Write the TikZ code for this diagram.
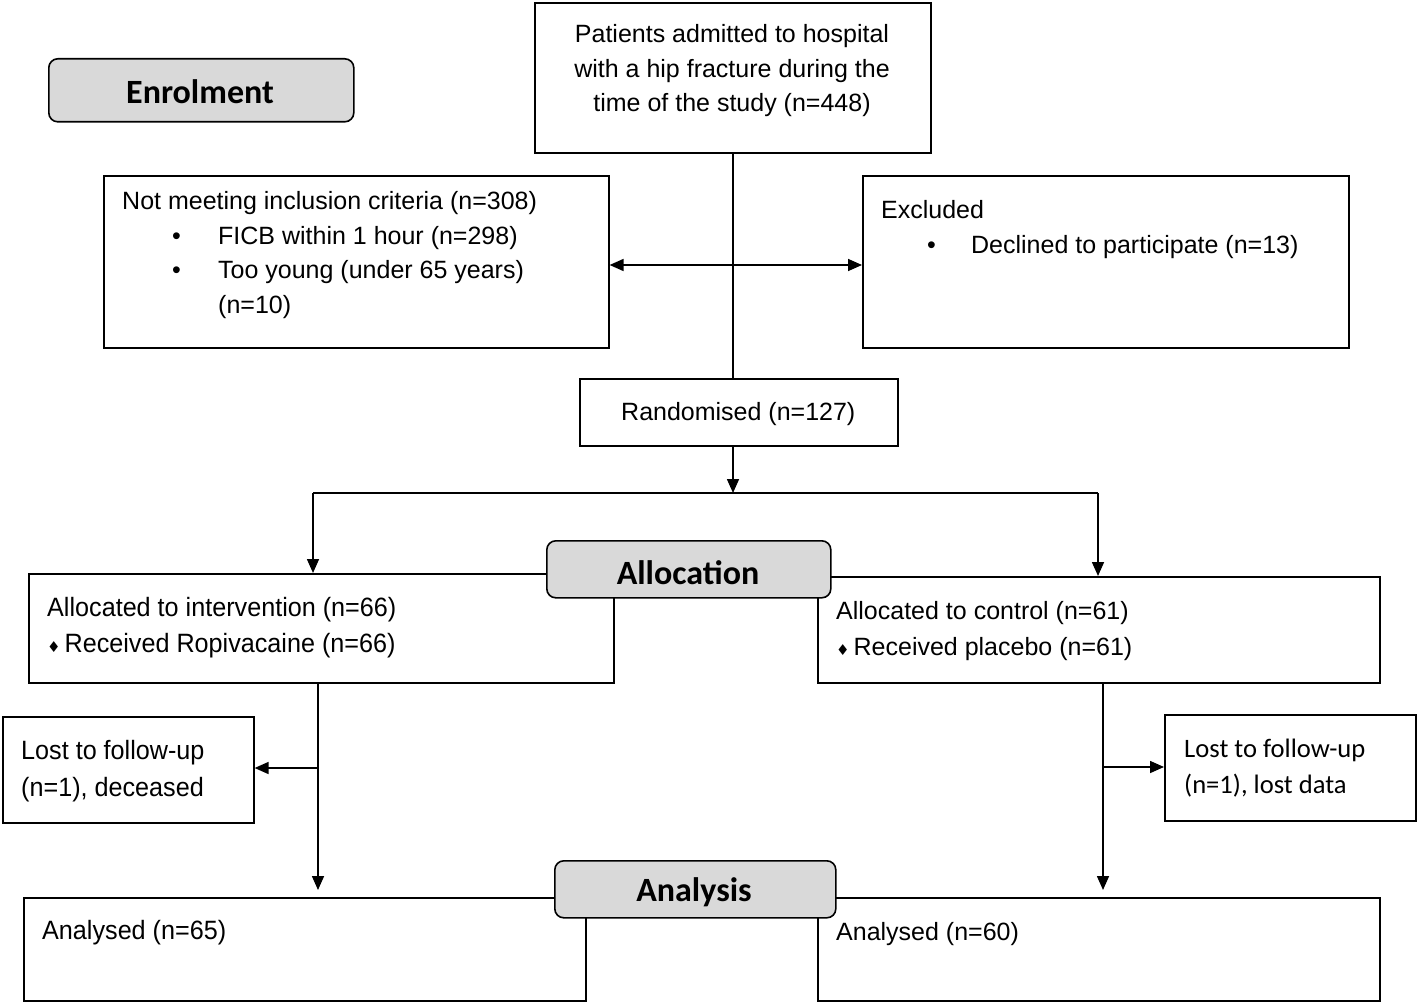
\documentclass[tikz,border=0pt]{standalone}
\usepackage{fontspec}
\setmainfont{Liberation Sans}
\newfontfamily\narrowfont[FakeStretch=0.95]{Liberation Sans}
\newfontfamily\headfont{Carlito}
\newfontfamily\symfont{DejaVu Sans}
\usetikzlibrary{positioning,arrows.meta}

\newcommand{\bulitem}[1]{\makebox[#1][l]{\hspace{50pt}\textbullet}}
\newcommand{\dia}{{\symfont\fontsize{15}{15}\selectfont ♦}\hspace{4pt}}

\tikzset{
  box/.style={draw, line width=1.6pt, anchor=north west, inner sep=0pt},
  heading/.style={draw, line width=1.6pt, rounded corners=9pt, fill=gray!30,
    anchor=north west, inner sep=0pt},
  headtxt/.style={font=\headfont\bfseries\fontsize{34}{34}\selectfont},
  txt/.style={anchor=west, align=left, inner sep=0pt, font=\fontsize{25}{34.5}\selectfont},
  narrow/.style={font=\narrowfont\fontsize{26.5}{36.5}\selectfont},
  arr/.style={line width=1.6pt, -{Triangle[length=14pt,width=12pt]}},
  line/.style={line width=1.6pt}
}

\begin{document}
\begin{tikzpicture}[x=1pt,y=-1pt]
\useasboundingbox[fill=white] (0,0) rectangle (1418,1003);
% Boxes
\node[box, minimum width=396, minimum height=150] (adm) at (534,2) {};
\node[box, minimum width=505, minimum height=172] (notmeet) at (103,175) {};
\node[box, minimum width=486, minimum height=172] (excl) at (862,175) {};
\node[box, minimum width=318, minimum height=67] (rand) at (579,378) {};
\node[box, minimum width=585, minimum height=109] (allocL) at (28,573) {};
\node[box, minimum width=562, minimum height=106] (allocR) at (817,576) {};
\node[box, minimum width=251, minimum height=106] (lostL) at (2,716) {};
\node[box, minimum width=251, minimum height=106] (lostR) at (1164,714) {};
\node[box, minimum width=562, minimum height=103] (anaL) at (23,897) {};
\node[box, minimum width=562, minimum height=103] (anaR) at (817,897) {};
% Headings
\node[heading, minimum width=305, minimum height=63] (enrol) at (48,58) {};
\node[heading, minimum width=284, minimum height=57] (alloc) at (546,540) {};
\node[heading, minimum width=281, minimum height=57] (analysis) at (554,860) {};
\node[headtxt] (enroltxt) at (200,92) {Enrolment};
\node[headtxt] (alloctxt) at (688,573) {Allocation};
\node[headtxt] (analysistxt) at (694,892) {Analysis};
% Texts
\node[txt, anchor=center, align=center] (admtxt) at (732,71)
  {Patients admitted to hospital\\with a hip fracture during the\\time of the study (n=448)};
\node[txt, anchor=north west, font=\fontsize{25}{34.8}\selectfont] (notmeettxt) at (122,191)
  {Not meeting inclusion criteria (n=308)\\
   \bulitem{96pt}FICB within 1 hour (n=298)\\
   \bulitem{96pt}Too young (under 65 years)\\
   \hspace{96pt}(n=10)};
\node[txt, anchor=north west, font=\fontsize{25}{35}\selectfont] (excltxt) at (881,200)
  {Excluded\\\makebox[90pt][l]{\hspace{46pt}\textbullet}Declined to participate (n=13)};
\node[txt] (randtxt) at (621,414) {Randomised (n=127)};
\node[txt, narrow, anchor=north west] (allocLtxt) at (47,597)
  {Allocated to intervention (n=66)\\\dia Received Ropivacaine (n=66)};
\node[txt, anchor=north west, font=\fontsize{25}{36}\selectfont] (allocRtxt) at (836,601)
  {Allocated to control (n=61)\\\dia Received placebo (n=61)};
\node[txt, narrow, anchor=north west, font=\narrowfont\fontsize{26.5}{37.5}\selectfont] (lostLtxt) at (21,740)
  {Lost to follow-up\\(n=1), deceased};
\node[txt, anchor=north west, font=\headfont\fontsize{26.6}{36}\selectfont] (lostRtxt) at (1184,739)
  {Lost to follow-up\\(n=1), lost data};
\node[txt, narrow] (anaLtxt) at (42,933) {Analysed (n=65)};
\node[txt] (anaRtxt) at (836,934) {Analysed (n=60)};
% Connectors
\coordinate (branch) at (733,265);
\coordinate (splitL) at (313,493);
\coordinate (splitC) at (733,493);
\coordinate (splitR) at (1098,493);
\coordinate (lossL) at (318,768);
\coordinate (lossR) at (1103,767);
\draw[line] (adm.south -| branch) -- (rand.north -| branch);
\draw[arr] (branch) -- (notmeet.east |- branch);
\draw[arr] (branch) -- (excl.west |- branch);
\draw[arr] (rand.south -| splitC) -- (splitC);
\draw[line] (splitL) -- (splitR);
\draw[arr] (splitL) -- (allocL.north -| splitL);
\draw[arr] (splitR) -- (allocR.north -| splitR);
\draw[arr, shorten >=7pt] (allocL.south -| lossL) -- (anaL.north -| lossL);
\draw[arr] (lossL) -- (lostL.east |- lossL);
\draw[arr, shorten >=7pt] (allocR.south -| lossR) -- (anaR.north -| lossR);
\draw[arr] (lossR) -- (lostR.west |- lossR);
\end{tikzpicture}
\end{document}
